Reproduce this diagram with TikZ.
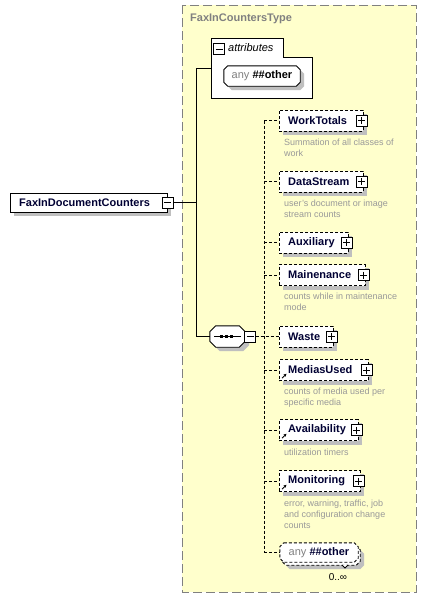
\documentclass[tikz,border=0pt]{standalone}
\usepackage{fontspec}
\setmainfont{Liberation Sans}
\usetikzlibrary{arrows.meta}
\definecolor{typebg}{HTML}{FFFFCC}
\definecolor{typeborder}{HTML}{808080}
\definecolor{desc}{HTML}{999999}
\definecolor{elemtext}{HTML}{000033}
\definecolor{shadowc}{HTML}{BFBFBF}
\pgfdeclarelayer{back}
\pgfdeclarelayer{shadowlayer}
\pgfdeclarelayer{mid}
\pgfsetlayers{back,shadowlayer,mid,main}
% octagon path round a node: name, chamfer, dx, dy
\newcommand\octo[4]{([shift={({#2+#3},#4)}]#1.north west) -- ([shift={({-#2+#3},#4)}]#1.north east) -- ([shift={(#3,{#2+#4})}]#1.north east) -- ([shift={(#3,{-#2+#4})}]#1.south east) -- ([shift={({-#2+#3},#4)}]#1.south east) -- ([shift={({#2+#3},#4)}]#1.south west) -- ([shift={(#3,{-#2+#4})}]#1.south west) -- ([shift={(#3,{#2+#4})}]#1.north west) -- cycle}
\newcommand\boxshadow[1]{\fill[shadowc] ([shift={(4,4)}]#1.north west) rectangle ([shift={(4,4)}]#1.south east);}
\begin{document}
\begin{tikzpicture}[x=1pt,y=-1pt,line width=0.9pt,
  elem/.style={draw,fill=white,dash pattern=on 3pt off 2pt,minimum height=21pt,
    inner xsep=9pt,inner ysep=0pt,anchor=west,align=left,
    font=\fontsize{11}{13}\selectfont\bfseries,text=elemtext},
  desctext/.style={anchor=north west,inner sep=0pt,align=left,
    font=\fontsize{9}{10.7}\selectfont,text=desc},
  plusbox/.style={draw,solid,fill=white,minimum size=11pt,inner sep=0pt,
    path picture={\draw[line width=0.9pt] ([xshift=2pt]path picture bounding box.west) -- ([xshift=-2pt]path picture bounding box.east);
      \draw[line width=0.9pt] ([yshift=-2pt]path picture bounding box.north) -- ([yshift=2pt]path picture bounding box.south);}},
  minusbox/.style={draw,solid,fill=white,minimum size=11pt,inner sep=0pt,
    path picture={\draw[line width=0.9pt] ([xshift=2pt]path picture bounding box.west) -- ([xshift=-2pt]path picture bounding box.east);}},
  conn/.style={draw,line width=0.9pt},
  dconn/.style={draw,line width=0.9pt,dash pattern=on 3pt off 2pt},
  octonode/.style={inner sep=0pt,font=\fontsize{11}{13}\selectfont},
  octoline/.style={draw,fill=white,line width=0.9pt},
  refarrow/.style={solid,line width=0.8pt,-{Stealth[length=3pt,width=3pt]}}
]
\useasboundingbox (0,0) rectangle (427,600);

% type box
\begin{pgfonlayer}{back}
\draw[typeborder,line width=1pt,dash pattern=on 9pt off 4pt,fill=typebg] (182,5) rectangle (416,592);
\end{pgfonlayer}
\node[anchor=west,inner sep=0pt,font=\fontsize{11}{13}\selectfont\bfseries,text=typeborder] (title) at (190,19) {FaxInCountersType};

% attributes box
\begin{pgfonlayer}{shadowlayer}
\draw[fill=white] (211,38) -- (283,38) -- (283,57) -- (312,57) -- (312,98) -- (211,98) -- cycle;
\end{pgfonlayer}
\node[minusbox] (attrm) at (219,49) {};
\node[anchor=west,inner sep=0pt,font=\fontsize{11}{13}\selectfont\itshape] (attrlabel) at (228,48) {attributes};
\coordinate (attrL) at (211,68);
\node[octonode,minimum width=76pt,minimum height=20pt] (anyattr) at (262,76)
  {\textcolor{typeborder}{any} \textbf{\#\#other}};

% root element
\node[draw,fill=white,anchor=north west,minimum height=19pt,inner xsep=9pt,inner ysep=0pt,text width=139pt,align=left,
  font=\fontsize{11}{13}\selectfont\bfseries,text=elemtext] (root) at (10,193) {FaxInDocumentCounters};
\node[minusbox] (rootm) at (root.east) {};

% buses
\coordinate (sbus) at (196,0);
\coordinate (dbus) at (264,0);

% sequence
\node[inner sep=0pt,minimum width=35pt,minimum height=21pt] (seq) at (227.5,336.5) {};
\draw[line width=0.9pt] (214,336.5) -- (241,336.5);
\fill (219.5,335) rectangle (222.5,338);
\fill (224.5,335) rectangle (227.5,338);
\fill (229.5,335) rectangle (232.5,338);
\node[minusbox] (seqm) at (250,336.5) {};

% elements
\node[elem,text width=66pt] (wt) at (279,120.5) {WorkTotals};
\node[plusbox] (wtp) at ([xshift=-1.5pt]wt.east) {};
\node[desctext] (wtd) at (284,139) {Summation of all classes of\\work};

\node[elem,text width=66pt] (ds) at (279,181.5) {DataStream};
\node[plusbox] (dsp) at ([xshift=-1.5pt]ds.east) {};
\node[desctext] (dsd) at (284,200) {user's document or image\\stream counts};

\node[elem,text width=51pt] (ax) at (279,242.5) {Auxiliary};
\node[plusbox] (axp) at ([xshift=-1.5pt]ax.east) {};

\node[elem,text width=68pt] (mn) at (279,275) {Mainenance};
\node[plusbox] (mnp) at ([xshift=-1.5pt]mn.east) {};
\node[desctext] (mnd) at (284,293) {counts while in maintenance\\mode};

\node[elem,text width=36pt] (ws) at (279,336.5) {Waste};
\node[plusbox] (wsp) at ([xshift=-1.5pt]ws.east) {};

\node[elem,text width=71pt] (mu) at (279,370) {MediasUsed};
\node[plusbox] (mup) at ([xshift=-1.5pt]mu.east) {};
\draw[refarrow] ([shift={(3,-2.5)}]mu.south west) -- ([shift={(7.5,-7)}]mu.south west);
\node[desctext] (mud) at (284,388) {counts of media used per\\specific media};

\node[elem,text width=61pt] (av) at (279,430) {Availability};
\node[plusbox] (avp) at ([xshift=-1.5pt]av.east) {};
\draw[refarrow] ([shift={(3,-2.5)}]av.south west) -- ([shift={(7.5,-7)}]av.south west);
\node[desctext] (avd) at (284,449) {utilization timers};

\node[elem,text width=63pt] (mo) at (279,481) {Monitoring};
\node[plusbox] (mop) at ([xshift=-1.5pt]mo.east) {};
\draw[refarrow] ([shift={(3,-2.5)}]mo.south west) -- ([shift={(7.5,-7)}]mo.south west);
\node[desctext] (mod) at (284,500) {error, warning, traffic, job\\and configuration change\\counts};

% any ##other element (multiple)
\node[octonode,minimum width=78pt,minimum height=19pt] (anyback) at (321,555.5) {};
\node[octonode,minimum width=78pt,minimum height=19pt] (anyel) at (319,552.5)
  {\textcolor{typeborder}{any} \textbf{\textcolor{elemtext}{\#\#other}}};
\node[inner sep=0pt,font=\fontsize{10}{12}\selectfont] (mult) at (338,577) {0..∞};

% shadows and octagon outlines
\begin{pgfonlayer}{shadowlayer}
\fill[shadowc] \octo{anyattr}{4}{4}{4};
\boxshadow{root}
\fill[shadowc] \octo{seq}{6}{4}{4};
\boxshadow{wt}
\boxshadow{ds}
\boxshadow{ax}
\boxshadow{mn}
\boxshadow{ws}
\boxshadow{mu}
\boxshadow{av}
\boxshadow{mo}
\fill[shadowc] \octo{anyback}{4}{4}{4};
\end{pgfonlayer}
\begin{pgfonlayer}{mid}
\draw[octoline] \octo{anyattr}{4}{0}{0};
\draw[octoline] \octo{seq}{6}{0}{0};
\draw[octoline,dash pattern=on 3pt off 2pt] \octo{anyback}{4}{0}{0};
\draw[octoline,dash pattern=on 3pt off 2pt] \octo{anyel}{4}{0}{0};
\draw[line width=0.8pt,fill=white] (342,565) -- (345,568) -- (348,565);
\end{pgfonlayer}

% connectors
\draw[conn] (rootm.east) -- (rootm.east -| sbus);
\draw[conn] (attrL) -- (attrL -| sbus) -- (seq.west -| sbus) -- (seq.west);
\draw[dconn] (seqm.east) -- (ws.west);
\draw[dconn] (wt.west -| dbus) -- (anyel.west -| dbus);
\draw[dconn] (wt.west -| dbus) -- (wt.west);
\draw[dconn] (ds.west -| dbus) -- (ds.west);
\draw[dconn] (ax.west -| dbus) -- (ax.west);
\draw[dconn] (mn.west -| dbus) -- (mn.west);
\draw[dconn] (mu.west -| dbus) -- (mu.west);
\draw[dconn] (av.west -| dbus) -- (av.west);
\draw[dconn] (mo.west -| dbus) -- (mo.west);
\draw[dconn] (anyel.west -| dbus) -- (anyel.west);
\end{tikzpicture}
\end{document}
